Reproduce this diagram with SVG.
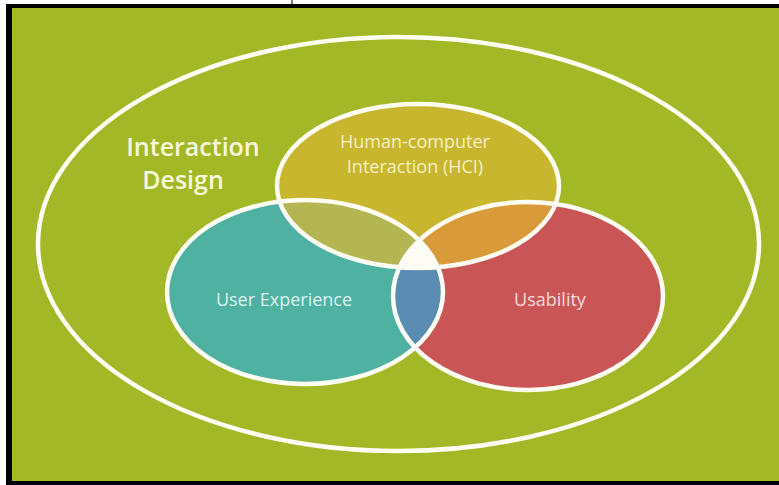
<svg xmlns="http://www.w3.org/2000/svg" width="779" height="485" viewBox="0 0 779 485">
<style>
.ring{fill:none;stroke:#fdfdf4;stroke-width:4.5}
.lbl{font-family:"Open Sans","Noto Sans",sans-serif;text-anchor:middle}
</style>
<defs>
<clipPath id="cH"><ellipse cx="418" cy="186" rx="141" ry="82"/></clipPath>
<clipPath id="cU"><ellipse cx="305" cy="292" rx="138" ry="92"/></clipPath>
</defs>
<rect x="0" y="0" width="779" height="485" fill="#ffffff"/>
<rect x="6" y="4" width="773" height="481" fill="#000000"/>
<rect x="12" y="8" width="767" height="473" fill="#a3b826"/>
<line x1="292" y1="0" x2="292" y2="4" stroke="#000" stroke-width="1"/>
<g id="interaction-design">
<ellipse class="ring" cx="398.5" cy="244" rx="360.5" ry="207"/>
<text class="lbl" x="193" y="156" font-size="25" font-weight="600" fill="#f7f6dc">Interaction</text>
<text class="lbl" x="183" y="189" font-size="25" font-weight="600" fill="#f7f6dc">Design</text>
</g>
<g id="fills">
<ellipse id="hci-fill" cx="418" cy="186" rx="141" ry="82" fill="#c8b62e"/>
<ellipse id="ux-fill" cx="305" cy="292" rx="138" ry="92" fill="#4fb1a2"/>
<ellipse id="usa-fill" cx="528" cy="296" rx="135" ry="94" fill="#c95556"/>
<g clip-path="url(#cH)"><ellipse cx="305" cy="292" rx="138" ry="92" fill="#b3b652"/></g>
<g clip-path="url(#cH)"><ellipse cx="528" cy="296" rx="135" ry="94" fill="#d99b3a"/></g>
<g clip-path="url(#cU)"><ellipse cx="528" cy="296" rx="135" ry="94" fill="#5a8bb0"/></g>
<g clip-path="url(#cH)"><g clip-path="url(#cU)"><ellipse cx="528" cy="296" rx="135" ry="94" fill="#fdfdf6"/></g></g>
</g>
<g id="hci">
<ellipse class="ring" cx="418" cy="186" rx="141" ry="82"/>
<text class="lbl" x="415" y="148" font-size="18" fill="#f4f0c4">Human-computer</text>
<text class="lbl" x="415" y="173" font-size="18" fill="#f4f0c4">Interaction (HCI)</text>
</g>
<g id="user-experience">
<ellipse class="ring" cx="305" cy="292" rx="138" ry="92"/>
<text class="lbl" x="284" y="306" font-size="18" fill="#dcf4ee">User Experience</text>
</g>
<g id="usability">
<ellipse class="ring" cx="528" cy="296" rx="135" ry="94"/>
<text class="lbl" x="550" y="306" font-size="18" fill="#f8dcdc">Usability</text>
</g>
<g id="connectors"/>
</svg>
